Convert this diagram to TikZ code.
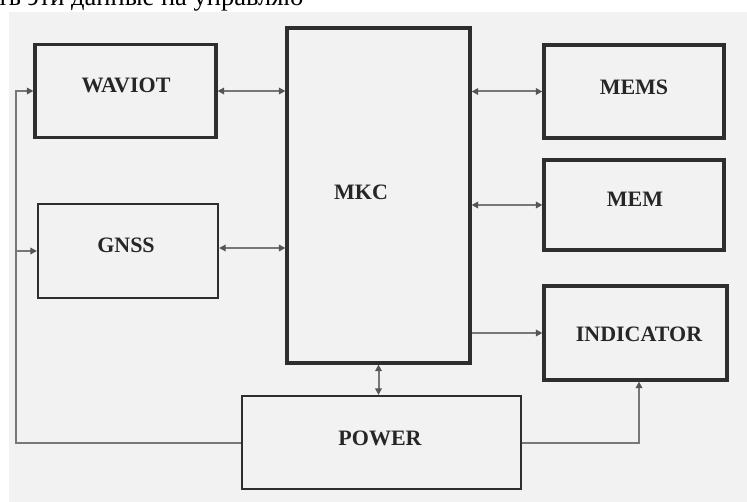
\documentclass[tikz,border=0pt]{standalone}
\usepackage{fontspec}
\setmainfont{Liberation Serif}
\usetikzlibrary{arrows.meta}
\definecolor{panelgray}{HTML}{F2F2F2}
\definecolor{boxline}{HTML}{2E2E2E}
\definecolor{connline}{HTML}{777777}
\definecolor{tipgray}{HTML}{555555}
\begin{document}
\begin{tikzpicture}[x=1pt,y=-1pt,
  thickbox/.style={draw=boxline, line width=3.2pt, fill=panelgray, inner sep=0pt},
  thinbox/.style={draw=boxline, line width=2.2pt, fill=panelgray, inner sep=0pt},
  lbl/.style={anchor=base, inner sep=0pt, font=\fontsize{22}{24}\selectfont\bfseries, text=black!85},
  conn/.style={draw=connline, line width=2pt},
  tip/.style={-{Triangle[length=6.5pt,width=6.5pt,color=tipgray]}},
  tips/.style={{Triangle[length=6.5pt,width=6.5pt,color=tipgray]}-{Triangle[length=6.5pt,width=6.5pt,color=tipgray]}}
]
\useasboundingbox (0,0) rectangle (747,502);
\clip (0,0) rectangle (747,502);
\fill[panelgray] (9,12) rectangle (747,502);
\node[anchor=base west, inner sep=0pt, font=\fontsize{26.5}{27}\selectfont] (toptext) at (-3,6) {ть эти данные на управляю};

% boxes
\node[thickbox, minimum width=181pt, minimum height=93pt] (waviot) at (125.5,91) {};
\node[thinbox, minimum width=180pt, minimum height=94pt] (gnss) at (128,251) {};
\node[thickbox, minimum width=183pt, minimum height=335pt] (mkc) at (378.5,195.5) {};
\node[thickbox, minimum width=180pt, minimum height=93pt] (mems) at (634,91.5) {};
\node[thickbox, minimum width=180pt, minimum height=90pt] (mem) at (634,205) {};
\node[thickbox, minimum width=183pt, minimum height=94pt] (indicator) at (635.5,333) {};
\node[thinbox, minimum width=279pt, minimum height=93pt] (power) at (381.5,442.5) {};

% labels
\node[lbl] (waviotT) at (126,93) {WAVIOT};
\node[lbl] (gnssT) at (126,253) {GNSS};
\node[lbl] (mkcT) at (361,200) {MKC};
\node[lbl] (memsT) at (634,95) {MEMS};
\node[lbl] (memT) at (635,207) {MEM};
\node[lbl] (indicatorT) at (639,342) {INDICATOR};
\node[lbl] (powerT) at (380,445) {POWER};

% connectors
\draw[conn, tips] (waviot.east) -- (waviot.east -| mkc.west);
\draw[conn, tips] ([yshift=3pt]gnss.east) -- ([yshift=3pt]gnss.east -| mkc.west);
\draw[conn, tips] (mems.west -| mkc.east) -- (mems.west);
\draw[conn, tips] (mem.west -| mkc.east) -- (mem.west);
\draw[conn, tip] (indicator.west -| mkc.east) -- (indicator.west);
\draw[conn, tips] (mkc.south) -- (mkc.south |- power.north);

\coordinate (lc) at (16,441);
\draw[conn, tip] (power.west) -- (power.west -| lc) -- (lc |- waviot.west) -- (waviot.west);
\draw[conn, tip] (lc |- gnss.west) -- (gnss.west);
\draw[conn, tip] (power.east) -| ([xshift=3.5pt]indicator.south);
\end{tikzpicture}
\end{document}
